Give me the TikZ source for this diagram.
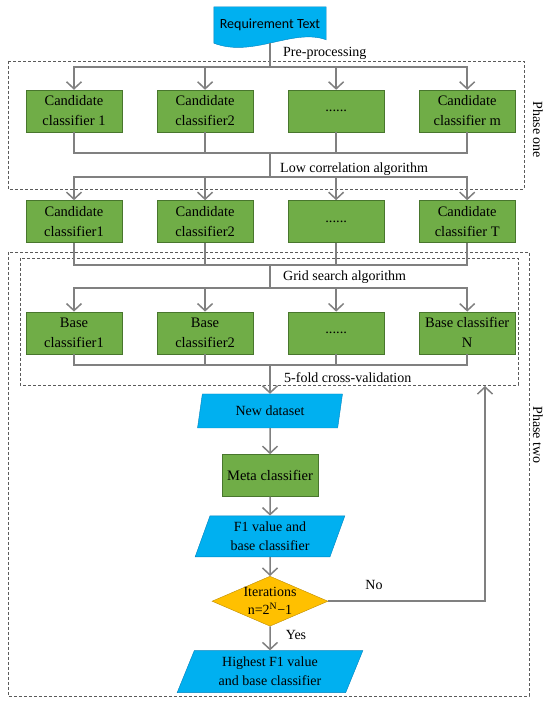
\documentclass[tikz,border=0pt]{standalone}
\usepackage{fontspec}
\setmainfont{Liberation Serif}
\newfontfamily\reqfont{Carlito}
\usepackage{tikz}
\usetikzlibrary{arrows.meta,shapes,positioning,backgrounds}
\usepackage{xcolor}
\definecolor{clgreen}{RGB}{112,173,71}
\definecolor{cldarkgreen}{RGB}{72,118,45}
\definecolor{clblue}{RGB}{0,176,240}
\definecolor{cldarkblue}{RGB}{0,130,190}
\definecolor{clyellow}{RGB}{255,192,0}
\definecolor{cldarkyellow}{RGB}{190,140,0}
\definecolor{clgray}{RGB}{128,128,128}
\definecolor{cldash}{RGB}{90,90,90}
\tikzstyle{arrow} = [line width=1.5pt,-{Straight Barb[length=7pt,width=15pt]},color=clgray]
\tikzstyle{link} = [line width=1.5pt,color=clgray]
\tikzstyle{classbox} = [rectangle, minimum width=96pt, minimum height=42pt, inner sep=1pt, align=center, draw=cldarkgreen, fill=clgreen, font=\fontsize{14.5}{20}\selectfont]
\tikzstyle{databox} = [trapezium, trapezium left angle=72, trapezium right angle=108, trapezium stretches=true, inner sep=1pt, align=center, draw=cldarkblue, fill=clblue, font=\fontsize{14}{19}\selectfont]
\tikzstyle{decision} = [diamond, minimum width=116pt, minimum height=50pt, inner sep=0pt, draw=cldarkyellow, fill=clyellow]
\tikzstyle{phasebox} = [dash pattern=on 3pt off 2pt, color=cldash, line width=0.8pt]
\tikzstyle{note} = [font=\fontsize{14}{16}\selectfont, inner sep=0pt]

\begin{document}
\begin{tikzpicture}[x=1pt, y=1pt, node distance=34.67pt]
    \useasboundingbox (0,0) rectangle (550,705);
    % Phase frames
    \draw[phasebox] (8,644) rectangle (524,516);
    \draw[phasebox] (8,453) rectangle (529,9);
    \draw[phasebox] (20,447) rectangle (518,320);
    \node[note, rotate=-90] (phase1) at (538,575) {Phase one};
    \node[note, rotate=-90] (phase2) at (538,270) {Phase two};

    % Nodes
    \node[minimum width=112pt, minimum height=36pt, inner sep=0pt, font=\reqfont\fontsize{14}{16}\selectfont] (req) at (270,680) {Requirement Text};
    \node[classbox] (c11) at (74,594) {Candidate\\classifier 1};
    \node[classbox, right=of c11] (c12) {Candidate\\classifier2};
    \node[classbox, right=of c12] (c13) {......};
    \node[classbox, right=of c13] (c14) {Candidate\\classifier m};
    \node[classbox, below=68pt of c11] (c21) {Candidate\\classifier1};
    \node[classbox, right=of c21] (c22) {Candidate\\classifier2};
    \node[classbox, right=of c22] (c23) {......};
    \node[classbox, right=of c23] (c24) {Candidate\\classifier T};
    \node[classbox, below=69pt of c21] (c31) {Base\\classifier1};
    \node[classbox, right=of c31] (c32) {Base\\classifier2};
    \node[classbox, right=of c32] (c33) {......};
    \node[classbox, right=of c33] (c34) {Base classifier\\N};
    \node[databox, trapezium left angle=78, trapezium right angle=102, minimum width=146pt, minimum height=34pt] (newdata) at (270,294) {New dataset};
    \node[classbox, below=26pt of newdata] (meta) {Meta classifier};
    \node[databox, minimum width=150pt, minimum height=41pt, below=19pt of meta] (f1) {F1 value and\\base classifier};
    \node[decision, below=19pt of f1, label={[align=center, font=\fontsize{14}{18}\selectfont]center:{Iterations\\n=2\textsuperscript{N}−1}}] (iter) {};
    \node[databox, trapezium left angle=69, trapezium right angle=111, minimum width=186pt, minimum height=42pt, below=24pt of iter] (best) {Highest F1 value\\and base classifier};

    % Labels
    \node[note, anchor=west] (pre) at (283,652) {Pre-processing};
    \node[note, anchor=west] (lowcorr) at (280,536) {Low correlation algorithm};
    \node[note, anchor=west] (grid) at (283,428) {Grid search algorithm};
    \node[note, anchor=west] (fold) at (284,327) {5-fold cross-validation};
    \node[note] (no) at (374,120) {No};
    \node[note] (yes) at (296,70) {Yes};

    % Document shape
    \begin{scope}[on background layer]
        \draw[draw=cldarkblue, fill=clblue] (req.north west) -- (req.north east) -- ++(0,-33) .. controls +(-33,12) and +(39,-15) .. (req.south west) -- cycle;
    \end{scope}

    % Branch points
    \coordinate (s1) at (270,638);
    \coordinate (j1) at (270,552);
    \coordinate (s2) at (270,528);
    \coordinate (j2) at (270,440);
    \coordinate (s3) at (270,417);
    \coordinate (j3) at (270,340);
    \coordinate (fb) at (485,319);

    % Arrows
    \draw[link] (req.south) -- (s1);
    \draw[arrow] (s1) -| (c11);
    \draw[arrow] (s1) -| (c12);
    \draw[arrow] (s1) -| (c13);
    \draw[arrow] (s1) -| (c14);
    \draw[link] (c11) |- (j1);
    \draw[link] (c12) |- (j1);
    \draw[link] (c13) |- (j1);
    \draw[link] (c14) |- (j1);
    \draw[link] (j1) -- (s2);
    \draw[arrow] (s2) -| (c21);
    \draw[arrow] (s2) -| (c22);
    \draw[arrow] (s2) -| (c23);
    \draw[arrow] (s2) -| (c24);
    \draw[link] (c21) |- (j2);
    \draw[link] (c22) |- (j2);
    \draw[link] (c23) |- (j2);
    \draw[link] (c24) |- (j2);
    \draw[link] (j2) -- (s3);
    \draw[arrow] (s3) -| (c31);
    \draw[arrow] (s3) -| (c32);
    \draw[arrow] (s3) -| (c33);
    \draw[arrow] (s3) -| (c34);
    \draw[link] (c31) |- (j3);
    \draw[link] (c32) |- (j3);
    \draw[link] (c33) |- (j3);
    \draw[link] (c34) |- (j3);
    \draw[arrow] (j3) -- (newdata);
    \draw[arrow] (newdata) -- (meta);
    \draw[arrow] (meta) -- (f1);
    \draw[arrow] (f1) -- (iter);
    \draw[arrow] (iter) -- (best);
    \draw[arrow] (iter) -| (fb);
\end{tikzpicture}
\end{document}
